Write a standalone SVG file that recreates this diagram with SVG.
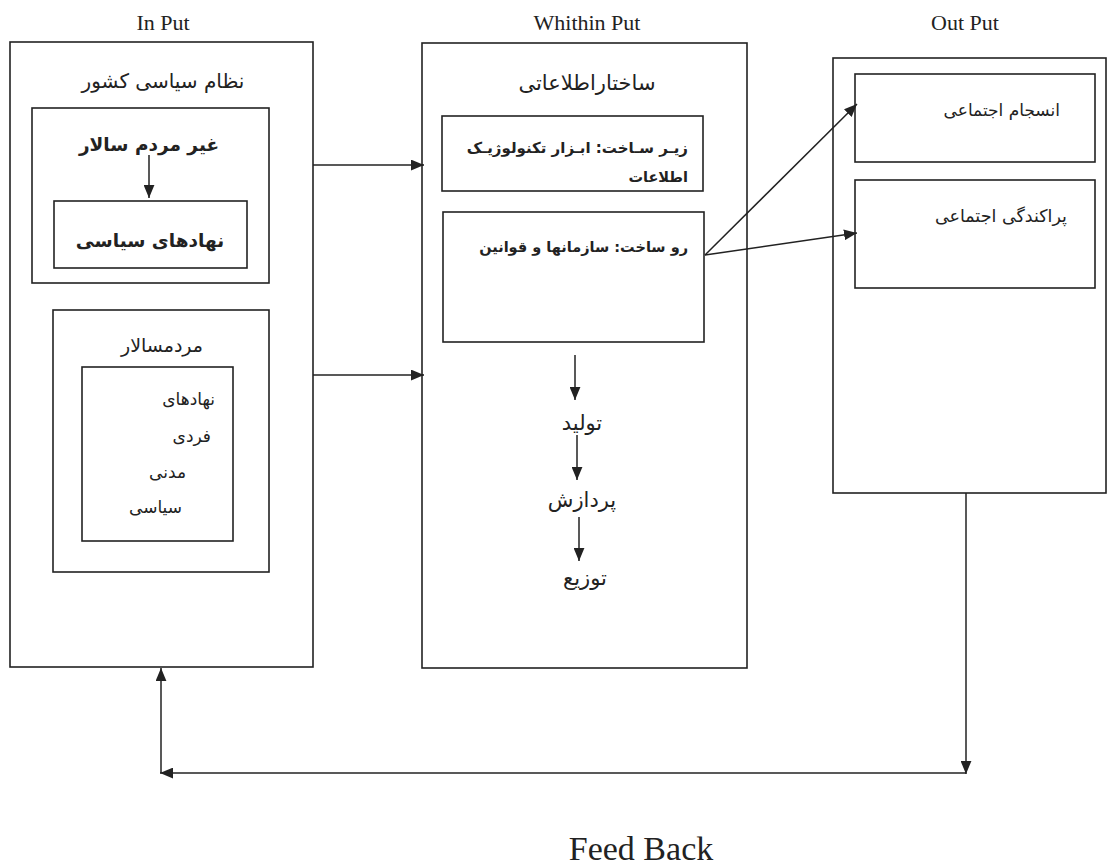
<svg xmlns="http://www.w3.org/2000/svg" width="1108" height="868" viewBox="0 0 1108 868">
<defs>
<style>
.box{fill:none;stroke:#222;stroke-width:1.6}
.ln{fill:none;stroke:#222;stroke-width:1.5}
.hd{font-family:"Liberation Serif",serif;font-size:22px;fill:#222;text-anchor:middle}
.fa{font-family:"DejaVu Sans","Noto Sans",sans-serif;fill:#222}
.c{text-anchor:middle}
.r{text-anchor:end}
.b{font-weight:bold}
</style>
<marker id="ah" viewBox="0 0 12 10" refX="12" refY="5" markerWidth="13" markerHeight="11" markerUnits="userSpaceOnUse" orient="auto">
<path d="M0,0 L12,5 L0,10 Z" fill="#222"/>
</marker>
</defs>
<rect width="1108" height="868" fill="#fff"/>
<text class="hd" x="163" y="30">In Put</text>
<text class="hd" x="587" y="30">Whithin Put</text>
<text class="hd" x="965" y="30">Out Put</text>
<text x="641" y="860" style="font-family:'Liberation Serif',serif;font-size:34px;fill:#222;text-anchor:middle">Feed Back</text>

<g id="input">
<rect class="box" x="10" y="42" width="303" height="625"/>
<text class="fa c" x="163" y="88" font-size="20">نظام سیاسی  کشور</text>
</g>
<g id="non-democratic">
<rect class="box" x="32" y="108" width="237" height="175"/>
<text class="fa c b" x="149" y="151" font-size="18.5">غیر مردم سالار</text>
</g>
<g id="political-institutions">
<rect class="box" x="54" y="201" width="193" height="67"/>
<text class="fa c b" x="150" y="247" font-size="18.5">نهادهای سیاسی</text>
</g>
<g id="democratic">
<rect class="box" x="53" y="310" width="216" height="262"/>
<text class="fa c" x="162" y="352" font-size="19">مردمسالار</text>
</g>
<g id="institutions">
<rect class="box" x="82" y="367" width="151" height="174"/>
<text class="fa r" x="215" y="405" font-size="17">نهادهای</text>
<text class="fa r" x="211" y="442" font-size="17">فردی</text>
<text class="fa r" x="186" y="478" font-size="17">مدنی</text>
<text class="fa r" x="182" y="513" font-size="17">سیاسی</text>
</g>

<g id="within">
<rect class="box" x="422" y="43" width="325" height="625"/>
<text class="fa c" x="587" y="90" font-size="21">ساختاراطلاعاتی</text>
<text class="fa c" x="582" y="430" font-size="21">تولید</text>
<text class="fa c" x="582" y="507" font-size="21">پردازش</text>
<text class="fa c" x="585" y="585" font-size="21">توزیع</text>
</g>
<g id="infrastructure">
<rect class="box" x="442" y="116" width="261" height="75"/>
<text class="fa r b" x="688" y="153" font-size="15">زیـر سـاخت: ابـزار تکنولوژیـک</text>
<text class="fa r b" x="688" y="182" font-size="14.5">اطلاعات</text>
</g>
<g id="superstructure">
<rect class="box" x="443" y="212" width="261" height="130"/>
<text class="fa r b" x="688" y="252" font-size="14.5">رو ساخت: سازمانها و قوانین</text>
</g>

<g id="output">
<rect class="box" x="833" y="58" width="273" height="435"/>
</g>
<g id="cohesion">
<rect class="box" x="855" y="74" width="240" height="88"/>
<text class="fa r" x="1060" y="116" font-size="17">انسجام اجتماعی</text>
</g>
<g id="dispersion">
<rect class="box" x="855" y="180" width="240" height="108"/>
<text class="fa r" x="1067" y="222" font-size="17.5">پراکندگی اجتماعی</text>
</g>

<g id="connectors">
<line class="ln" x1="149" y1="155" x2="149" y2="198" marker-end="url(#ah)"/>
<line class="ln" x1="313" y1="165" x2="424" y2="165" marker-end="url(#ah)"/>
<line class="ln" x1="313" y1="375" x2="424" y2="375" marker-end="url(#ah)"/>
<line class="ln" x1="575" y1="355" x2="575" y2="400" marker-end="url(#ah)"/>
<line class="ln" x1="577" y1="435" x2="577" y2="480" marker-end="url(#ah)"/>
<line class="ln" x1="579" y1="517" x2="579" y2="561" marker-end="url(#ah)"/>
<line class="ln" x1="705" y1="255" x2="857" y2="104" marker-end="url(#ah)"/>
<line class="ln" x1="705" y1="255" x2="857" y2="233" marker-end="url(#ah)"/>
<line class="ln" x1="966" y1="493" x2="966" y2="774" marker-end="url(#ah)"/>
<line class="ln" x1="966" y1="773" x2="160" y2="773" marker-end="url(#ah)"/>
<line class="ln" x1="161" y1="773" x2="161" y2="668" marker-end="url(#ah)"/>
</g>
</svg>
